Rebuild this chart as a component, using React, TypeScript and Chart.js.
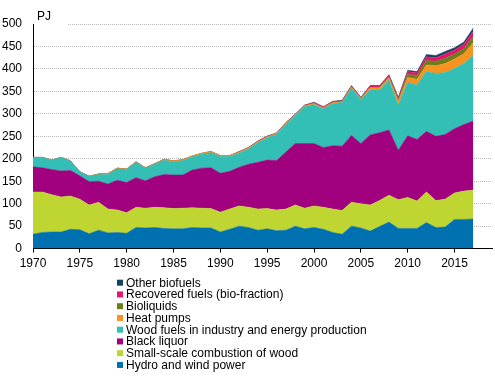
import React, { useEffect, useRef } from "react";
import { Chart, registerables } from "chart.js";

Chart.register(...registerables);

const years: number[] = Array.from({ length: 48 }, (_, i) => 1970 + i);

const hydroWind = [32,36,37,37,43,42,33,41,35,36, 34,47,46,47,45,44,44,47,46,46, 37,43,50,47,41,44,40,41,50,44, 47,43,36,32,50,46,39,49,59,45, 45,45,58,47,48,65,65,66];
const smallWood = [94,90,83,78,74,68,64,62,53,50, 46,45,44,45,46,45,46,44,44,43, 44,45,45,45,47,45,46,47,47,46, 48,49,52,53,53,54,58,58,60,64, 69,61,68,60,62,59,63,64];
const blackLiquor = [56,54,56,58,57,52,52,47,56,66, 67,66,61,68,74,75,74,84,89,91, 87,84,86,96,104,108,110,127,137,144, 139,133,141,143,149,134,156,151,145,110, 137,137,135,143,144,143,148,154];
const woodFuels = [21,23,21,30,21,9,12,15,21,26, 29,34,28,28,32,29,32,29,31,34, 37,33,32,34,44,50,58,62,62,82, 87,86,94,97,105,98,101,95,111,101, 119,121,133,140,138,134,136,147];
const heatPumps = [0,0,0,0,0,0,0,1,2,1, 1,1,1,1,2,2,2,2,2,2, 2,2,2,2,2,2,2,2,2,2, 2,2,2,2,3,2,4,5,5,8, 11,13,15,17,20,21,22,28];
const bioliquids = [0,0,0,0,0,0,0,0,0,0, 0,0,0,0,0,0,0,0,0,0, 0,0,0,0,0,0,0,0,0,0, 0,0,0,0,0,0,1,1,2,4, 7,8,10,10,12,11,11,13];
const recoveredFuels = [0,0,0,0,0,0,0,0,0,0, 0,0,0,0,0,0,0,0,0,0, 0,0,1,1,1,1,1,1,1,1, 2,2,2,2,2,2,3,3,3,3, 6,6,8,8,9,9,10,12];
const otherBiofuels = [0,0,0,0,0,0,0,0,0,0, 0,0,0,0,0,0,0,0,0,0, 0,0,0,0,0.5,0.5,0.5,0.5,0.5,0.5, 1,1,1,1,1,1,1,1,2,2, 3,3,5,5,6,5,5,7];

const seriesNames = [
  "Hydro and wind power",
  "Small-scale combustion of wood",
  "Black liquor",
  "Wood fuels in industry and energy production",
  "Heat pumps",
  "Bioliquids",
  "Recovered fuels (bio-fraction)",
  "Other biofuels",
];
const seriesValues = [hydroWind, smallWood, blackLiquor, woodFuels, heatPumps, bioliquids, recoveredFuels, otherBiofuels];
const seriesColors = ["#0071b0", "#bfd531", "#a1007f", "#33bfb5", "#f7931e", "#6c7e1a", "#e5166f", "#15445f"];

const yTicks = [0, 50, 100, 150, 200, 250, 300, 350, 400, 450, 500];
const unitLabel = "PJ";

const FONT = '"Liberation Sans", Arial, sans-serif';

const legendPlugin = {
  id: "customLegend",
  afterDraw(chart: any) {
    const ctx = chart.ctx;
    ctx.save();
    ctx.font = `12px ${FONT}`;
    ctx.textBaseline = "middle";
    const items = [...chart.data.datasets].reverse();
    items.forEach((ds: any, i: number) => {
      const y = 282.7 + i * 11.75;
      ctx.fillStyle = ds.backgroundColor;
      ctx.fillRect(117, y - 3, 6, 6);
      ctx.fillStyle = "#000";
      ctx.fillText(ds.label, 126, y + 0.5);
    });
    ctx.restore();
  },
};

const unitPlugin = {
  id: "unitLabel",
  afterDraw(chart: any) {
    const { ctx, chartArea } = chart;
    ctx.save();
    ctx.fillStyle = "#fff";
    ctx.fillRect(chartArea.left + 1, chartArea.top - 12, 34, 13.5);
    ctx.fillStyle = "#000";
    ctx.font = `12px ${FONT}`;
    ctx.textBaseline = "middle";
    ctx.textAlign = "left";
    ctx.fillText(unitLabel, chartArea.left + 4, chartArea.top - 7);
    ctx.restore();
  },
};

export default function App() {
  const ref = useRef<HTMLCanvasElement>(null);
  useEffect(() => {
    document.body.style.margin = "0";
    const datasets = seriesNames.map((name, k) => ({
      label: name,
      data: years.map((yr, i) => ({ x: yr, y: seriesValues[k][i] })),
      backgroundColor: seriesColors[k],
      borderColor: seriesColors[k],
      borderWidth: 0.5,
      pointRadius: 0,
      tension: 0,
      fill: k === 0 ? "origin" : "-1",
    }));
    const chart = new Chart(ref.current!, {
      type: "line",
      data: { datasets },
      plugins: [legendPlugin, unitPlugin],
      options: {
        animation: false,
        responsive: false,
        layout: { padding: { top: 24, left: 2, right: 3, bottom: 103 } },
        plugins: { legend: { display: false }, tooltip: { enabled: false } },
        scales: {
          x: {
            type: "linear",
            min: 1970,
            max: 2019,
            grid: { drawOnChartArea: false, drawTicks: true, tickLength: 4, color: "#000" },
            border: { display: true, color: "#000", width: 1 },
            ticks: {
              stepSize: 5,
              includeBounds: false,
              autoSkip: false,
              maxRotation: 0,
              padding: 4,
              color: "#000",
              font: { family: FONT, size: 12 },
              callback: (v: any) => String(v),
            },
          },
          y: {
            stacked: true,
            min: 0,
            max: 500,
            afterBuildTicks: (axis: any) => {
              axis.ticks = yTicks.map((v) => ({ value: v }));
            },
            afterFit: (axis: any) => {
              axis.width = 31;
            },
            grid: { color: "#b8b8b8", lineWidth: 1, drawTicks: false },
            border: { display: true, color: "#000", width: 1, dash: [1, 1] },
            ticks: {
              padding: 11,
              color: "#000",
              font: { family: FONT, size: 12 },
            },
          },
        },
      } as any,
    });
    return () => chart.destroy();
  }, []);
  return <canvas ref={ref} width={495} height={378} style={{ display: "block" }} />;
}
